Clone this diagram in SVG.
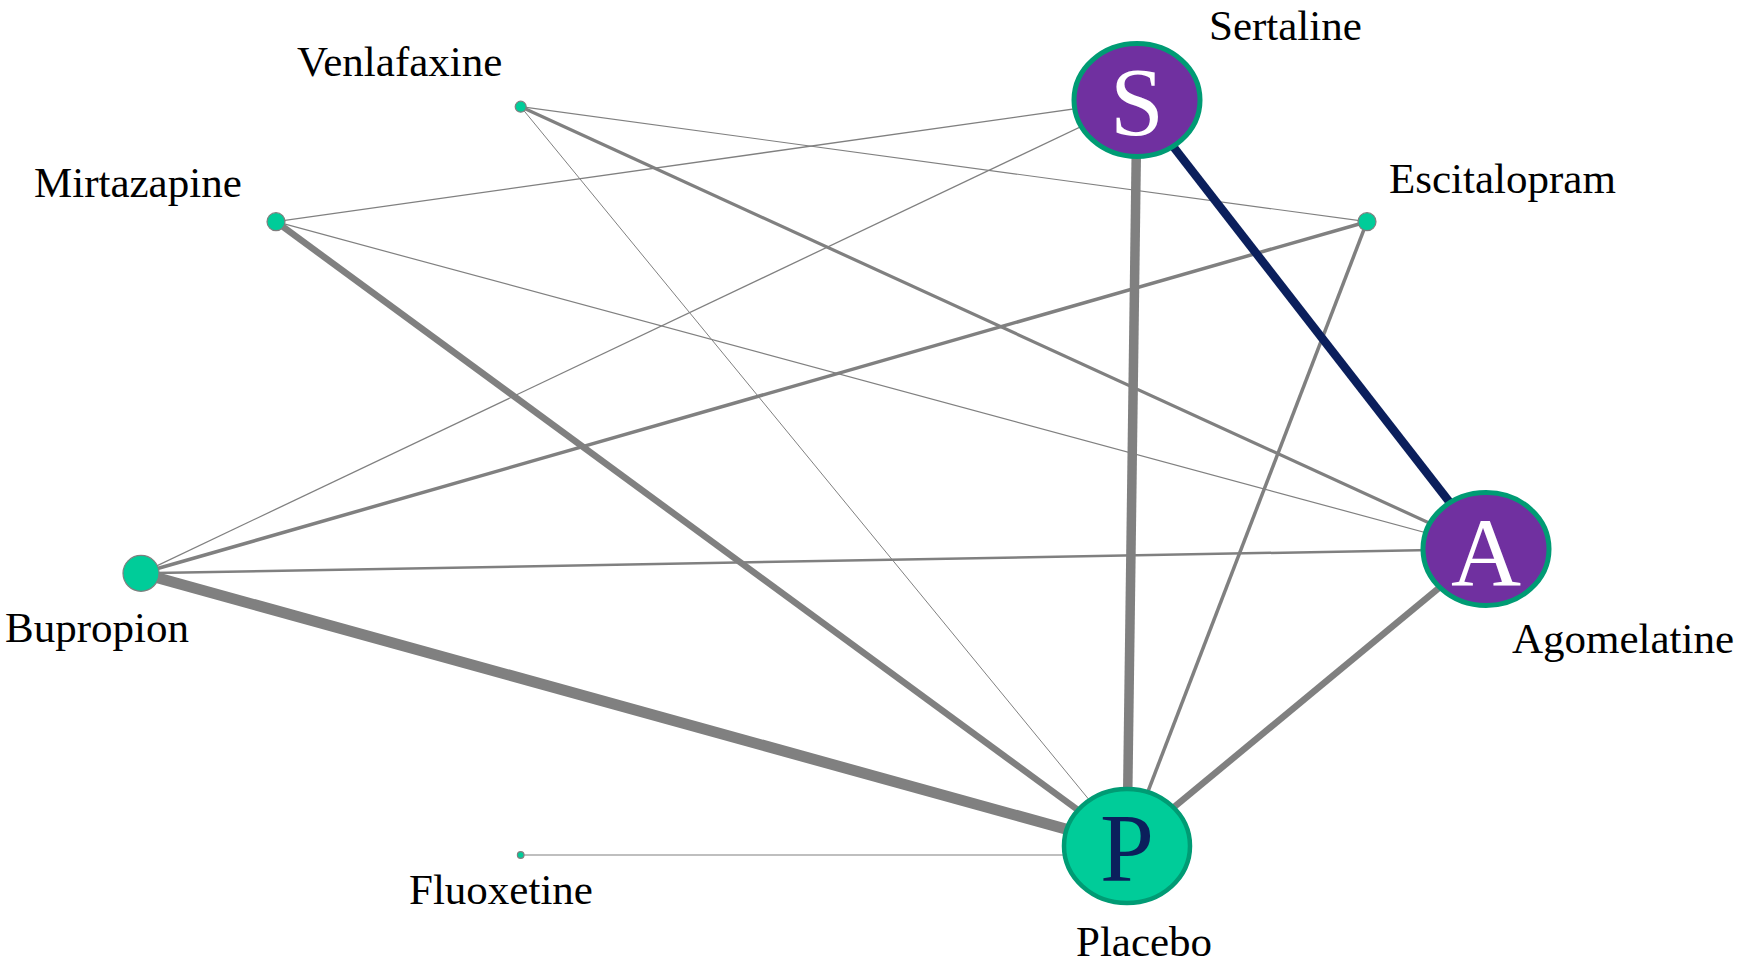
<svg xmlns="http://www.w3.org/2000/svg" width="1739" height="966" viewBox="0 0 1739 966">
  <style>
    .edge { stroke: #808080; stroke-linecap: butt; fill: none; }
    .edge.strong { stroke: #0b1f5c; }
    .small { fill: #00cc99; stroke: #7f7f7f; stroke-width: 1.2; }
    .big-purple { fill: #7030a0; stroke: #009b74; stroke-width: 5; }
    .big-teal { fill: #00cc99; stroke: #009b74; stroke-width: 4.5; }
    .label { font-family: "Liberation Serif", "Times New Roman", serif; font-size: 43px; fill: #000; }
    .initial { font-family: "Liberation Serif", "Times New Roman", serif; font-size: 97px; text-anchor: middle; }
  </style>
  <rect width="1739" height="966" fill="#ffffff"/>

  <!-- connectors: stroke width reflects the number of comparisons -->
  <g id="edges">
    <line class="edge" x1="520.7" y1="106.7" x2="1367" y2="221.7" stroke-width="1.2"/>
    <line class="edge" x1="520.7" y1="106.7" x2="1486" y2="549" stroke-width="3.2"/>
    <line class="edge" x1="520.7" y1="106.7" x2="1127" y2="846" stroke-width="1"/>
    <line class="edge" x1="276" y1="221.7" x2="1137" y2="100" stroke-width="1.3"/>
    <line class="edge" x1="276" y1="221.7" x2="1486" y2="549" stroke-width="1.2"/>
    <line class="edge" x1="276" y1="221.7" x2="1127" y2="846" stroke-width="6.5"/>
    <line class="edge" x1="141" y1="573.3" x2="1137" y2="100" stroke-width="1.3"/>
    <line class="edge" x1="141" y1="573.3" x2="1367" y2="221.7" stroke-width="3.5"/>
    <line class="edge" x1="141" y1="573.3" x2="1486" y2="549" stroke-width="2.5"/>
    <line class="edge" x1="141" y1="573.3" x2="1127" y2="846" stroke-width="11"/>
    <line class="edge" x1="1367" y1="221.7" x2="1127" y2="846" stroke-width="3.5"/>
    <line class="edge" x1="1137" y1="100" x2="1127" y2="846" stroke-width="9.5"/>
    <line class="edge" x1="1486" y1="549" x2="1127" y2="846" stroke-width="6.5"/>
    <line class="edge" x1="520.7" y1="855" x2="1127" y2="855" stroke-width="1.2"/>
    <line class="edge strong" x1="1137" y1="100" x2="1486" y2="549" stroke-width="8.5"/>
  </g>

  <g id="node-venlafaxine">
    <circle class="small" cx="520.7" cy="106.7" r="5.5"/>
    <text class="label" x="297" y="76">Venlafaxine</text>
  </g>
  <g id="node-mirtazapine">
    <circle class="small" cx="276" cy="221.7" r="9"/>
    <text class="label" x="34" y="197">Mirtazapine</text>
  </g>
  <g id="node-escitalopram">
    <circle class="small" cx="1367" cy="221.7" r="9"/>
    <text class="label" x="1389" y="193">Escitalopram</text>
  </g>
  <g id="node-bupropion">
    <circle class="small" cx="141" cy="573.3" r="18"/>
    <text class="label" x="5" y="642">Bupropion</text>
  </g>
  <g id="node-fluoxetine">
    <circle class="small" cx="520.7" cy="855" r="3.3"/>
    <text class="label" x="409" y="904">Fluoxetine</text>
  </g>
  <g id="node-sertaline">
    <ellipse class="big-purple" cx="1137" cy="100" rx="63" ry="56.5"/>
    <text class="initial" x="1137" y="135" fill="#ffffff">S</text>
    <text class="label" x="1209" y="40">Sertaline</text>
  </g>
  <g id="node-agomelatine">
    <ellipse class="big-purple" cx="1486" cy="549" rx="63" ry="56.5"/>
    <text class="initial" x="1486" y="585" fill="#ffffff">A</text>
    <text class="label" x="1512" y="653">Agomelatine</text>
  </g>
  <g id="node-placebo">
    <ellipse class="big-teal" cx="1127" cy="846" rx="63" ry="57"/>
    <text class="initial" x="1127" y="881" fill="#0b1f5c">P</text>
    <text class="label" x="1076" y="956">Placebo</text>
  </g>
</svg>
